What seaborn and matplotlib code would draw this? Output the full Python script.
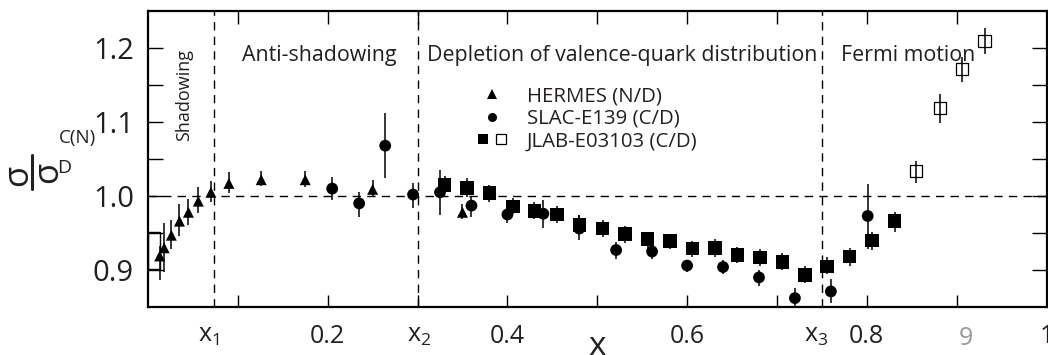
import numpy as np
import pandas as pd
import matplotlib
matplotlib.use("Agg")
import matplotlib.pyplot as plt
import seaborn as sns
import matplotlib.transforms as mtransforms
from matplotlib.patches import Rectangle
from matplotlib.lines import Line2D
from matplotlib.legend_handler import HandlerTuple

# ---------------- data ----------------
hermes_x = [0.013, 0.018, 0.026, 0.035, 0.045, 0.056, 0.070, 0.090, 0.126, 0.175, 0.250, 0.350]
hermes_y = [0.919, 0.930, 0.947, 0.966, 0.978, 0.993, 1.005, 1.017, 1.022, 1.022, 1.009, 0.978]
hermes_lo = [0.887, 0.897, 0.929, 0.946, 0.961, 0.977, 0.992, 1.004, 1.013, 1.012, 1.000, 0.969]
hermes_hi = [0.933, 0.964, 0.967, 0.989, 0.996, 1.012, 1.020, 1.033, 1.034, 1.034, 1.021, 0.989]

slac_x = [0.205, 0.235, 0.264, 0.295, 0.325, 0.360, 0.400, 0.440, 0.480, 0.521, 0.561, 0.600,
          0.640, 0.680, 0.720, 0.760, 0.801]
slac_y = [1.010, 0.990, 1.068, 1.002, 1.005, 0.987, 0.975, 0.976, 0.956, 0.927, 0.925, 0.906,
          0.904, 0.890, 0.862, 0.871, 0.973]
slac_lo = [0.994, 0.972, 1.025, 0.984, 0.974, 0.971, 0.964, 0.957, 0.940, 0.915, 0.915, 0.897,
           0.894, 0.878, 0.849, 0.855, 0.929]
slac_hi = [1.026, 1.006, 1.112, 1.018, 1.035, 0.998, 0.985, 0.994, 0.974, 0.938, 0.934, 0.914,
           0.913, 0.900, 0.876, 0.888, 1.016]

jlab_x = [0.330, 0.355, 0.380, 0.406, 0.430, 0.455, 0.480, 0.506, 0.531, 0.556, 0.581, 0.606,
          0.631, 0.656, 0.681, 0.706, 0.731, 0.756, 0.781, 0.806, 0.831]
jlab_y = [1.015, 1.011, 1.004, 0.986, 0.980, 0.975, 0.961, 0.956, 0.949, 0.942, 0.939, 0.929,
          0.930, 0.920, 0.917, 0.911, 0.893, 0.905, 0.918, 0.940, 0.966]
jlab_lo = [1.007, 0.999, 0.992, 0.976, 0.969, 0.964, 0.949, 0.945, 0.937, 0.929, 0.928, 0.918,
           0.918, 0.909, 0.906, 0.900, 0.882, 0.894, 0.906, 0.927, 0.951]
jlab_hi = [1.027, 1.024, 1.015, 0.997, 0.992, 0.986, 0.974, 0.967, 0.960, 0.952, 0.949, 0.939,
           0.942, 0.931, 0.929, 0.923, 0.905, 0.917, 0.930, 0.951, 0.978]

jlab_open_x = [0.855, 0.881, 0.906, 0.931]
jlab_open_y = [1.034, 1.119, 1.171, 1.210]
jlab_open_lo = [1.018, 1.099, 1.154, 1.192]
jlab_open_hi = [1.047, 1.138, 1.188, 1.227]

# systematic box for the lowest HERMES point: x-range and y-range
hermes_sys_x = [0.0, 0.013]
hermes_sys_y = [0.901, 0.952]

# region boundaries and their axis labels
boundary_x = [0.073, 0.300, 0.750]
boundary_names = ["x$_1$", "x$_2$", "x$_3$"]
boundary_label_x = [0.068, 0.302, 0.744]

region_labels = ["Anti-shadowing", "Depletion of valence-quark distribution", "Fermi motion"]
region_label_x = [0.191, 0.528, 0.846]

legend_labels = ["HERMES (N/D)", "SLAC-E139 (C/D)", "JLAB-E03103 (C/D)"]

xtick_major = [0.2, 0.4, 0.6, 0.8, 1.0]
xtick_major_labels = ["0.2", "0.4", "0.6", "0.8", "1"]
xtick_minor = [0.1, 0.3, 0.5, 0.7, 0.9]
ytick_major = [0.9, 1.0, 1.1, 1.2]
ytick_major_labels = ["0.9", "1.0", "1.1", "1.2"]
ytick_minor = [0.95, 1.05, 1.15]

# ---------------- style ----------------
sns.set_theme(style="ticks")
plt.rcParams['font.family'] = ['Open Sans', 'DejaVu Sans']
plt.rcParams['mathtext.fontset'] = 'custom'
plt.rcParams['mathtext.rm'] = 'Open Sans'
plt.rcParams['mathtext.it'] = 'Open Sans'
plt.rcParams['mathtext.sf'] = 'Open Sans'

TXT = '#231f20'

fig = plt.figure(figsize=(10.48, 3.55), dpi=100)
W, H = 1048.0, 355.0
ax = fig.add_axes([148 / W, 1 - 307 / H, 898.5 / W, 296 / H])

ax.set_xlim(0.0, 1.0)
ax.set_ylim(0.85, 1.25)

def asym(y, lo, hi):
    y = np.asarray(y); lo = np.asarray(lo); hi = np.asarray(hi)
    return [y - lo, hi - y]

eb_kw = dict(fmt='none', ecolor='black', elinewidth=1.1, capsize=0, zorder=2)
ax.errorbar(hermes_x, hermes_y, yerr=asym(hermes_y, hermes_lo, hermes_hi), **eb_kw)
ax.errorbar(slac_x, slac_y, yerr=asym(slac_y, slac_lo, slac_hi), **eb_kw)
ax.errorbar(jlab_x, jlab_y, yerr=asym(jlab_y, jlab_lo, jlab_hi), **eb_kw)
ax.errorbar(jlab_open_x, jlab_open_y, yerr=asym(jlab_open_y, jlab_open_lo, jlab_open_hi), **eb_kw)

df_h = pd.DataFrame({"x": hermes_x, "y": hermes_y})
df_s = pd.DataFrame({"x": slac_x, "y": slac_y})
df_j = pd.DataFrame({"x": jlab_x, "y": jlab_y})
df_o = pd.DataFrame({"x": jlab_open_x, "y": jlab_open_y})

sns.scatterplot(data=df_h, x="x", y="y", marker="^", s=62, color="black", edgecolor="none",
                linewidth=0, ax=ax, zorder=3)
sns.scatterplot(data=df_s, x="x", y="y", marker="o", s=72, color="black", edgecolor="none",
                linewidth=0, ax=ax, zorder=3)
sns.scatterplot(data=df_j, x="x", y="y", marker="s", s=95, color="black", edgecolor="none",
                linewidth=0, ax=ax, zorder=3)
sns.scatterplot(data=df_o, x="x", y="y", marker="s", s=75, facecolor="none", edgecolor="black",
                linewidth=0.9, ax=ax, zorder=3)

ax.add_patch(Rectangle((hermes_sys_x[0], hermes_sys_y[0]), hermes_sys_x[1] - hermes_sys_x[0],
                       hermes_sys_y[1] - hermes_sys_y[0], fill=False, edgecolor='black',
                       linewidth=1.0, zorder=2))

# dashed guide lines
for bx in boundary_x:
    ax.axvline(bx, color='black', lw=1.0, dashes=(6, 4.5), zorder=1)
ax.axhline(1.0, color='black', lw=1.0, dashes=(6, 4.5), zorder=1)

# region labels
for lab, lx in zip(region_labels, region_label_x):
    ax.text(lx, 1.19, lab, ha='center', va='center', fontsize=15.4, color=TXT)
ax.text(0.040, 1.137, "Shadowing", rotation=90, ha='center', va='center', fontsize=13, color=TXT)

# axes styling
ax.set_xticks(xtick_major)
ax.set_xticklabels(xtick_major_labels)
ax.set_xticks(xtick_minor, minor=True)
ax.set_yticks(ytick_major)
ax.set_yticklabels(ytick_major_labels)
ax.set_yticks(ytick_minor, minor=True)
ax.tick_params(axis='x', which='both', direction='in', top=True, bottom=True, length=9,
               width=1.0, color='black', pad=12, labelsize=18, labelcolor=TXT)
ax.tick_params(axis='y', which='both', direction='in', left=True, right=True, length=11,
               width=1.0, color='black', pad=10, labelsize=21, labelcolor=TXT)
for sp in ax.spines.values():
    sp.set_linewidth(1.6)
    sp.set_color('black')
ax.set_xlabel("")
ax.set_ylabel("")

trans = mtransforms.blended_transform_factory(ax.transData, ax.transAxes)
for lx, nm in zip(boundary_label_x, boundary_names):
    ax.text(lx, -0.095, nm, transform=trans, ha='center', va='center', fontsize=18, color=TXT)
ax.text(0.91, -0.105, "9", transform=trans, ha='center', va='center', fontsize=18, color='#9a9a9a')
ax.text(0.5, -0.135, "x", transform=trans, ha='center', va='center', fontsize=24, color=TXT)

# y label: sigma | sigma with C(N) and D
fig.text(18 / W, 1 - 175 / H, "σ", rotation=90, ha='center', va='center', fontsize=25, color=TXT)
fig.add_artist(Line2D([32 / W, 32 / W], [1 - 155 / H, 1 - 189 / H], color=TXT, lw=2.2))
fig.text(48 / W, 1 - 172 / H, "σ", rotation=90, ha='center', va='center', fontsize=25, color=TXT)
fig.text(59 / W, 1 - 138 / H, "C(N)", ha='left', va='center', fontsize=13.5, color=TXT)
fig.text(57 / W, 1 - 168 / H, "D", ha='left', va='center', fontsize=14, color=TXT)

# legend
h_tri = Line2D([], [], marker='^', color='black', ls='none', markersize=6.5, markeredgewidth=0)
h_cir = Line2D([], [], marker='o', color='black', ls='none', markersize=6.5, markeredgewidth=0)
h_sqf = Line2D([], [], marker='s', color='black', ls='none', markersize=7, markeredgewidth=0)
h_sqo = Line2D([], [], marker='s', markerfacecolor='none', markeredgecolor='black', ls='none',
               markersize=7, markeredgewidth=0.9)
ax.legend(handles=[h_tri, h_cir, (h_sqf, h_sqo)], labels=legend_labels,
          handler_map={tuple: HandlerTuple(ndivide=None, pad=0.4)},
          loc='upper left', bbox_to_anchor=(0.367, 0.745), frameon=False, fontsize=14.7,
          handlelength=1.4, handletextpad=1.0, labelspacing=0.12, borderpad=0, borderaxespad=0,
          labelcolor=TXT)

fig.savefig("out.png", dpi=100)
